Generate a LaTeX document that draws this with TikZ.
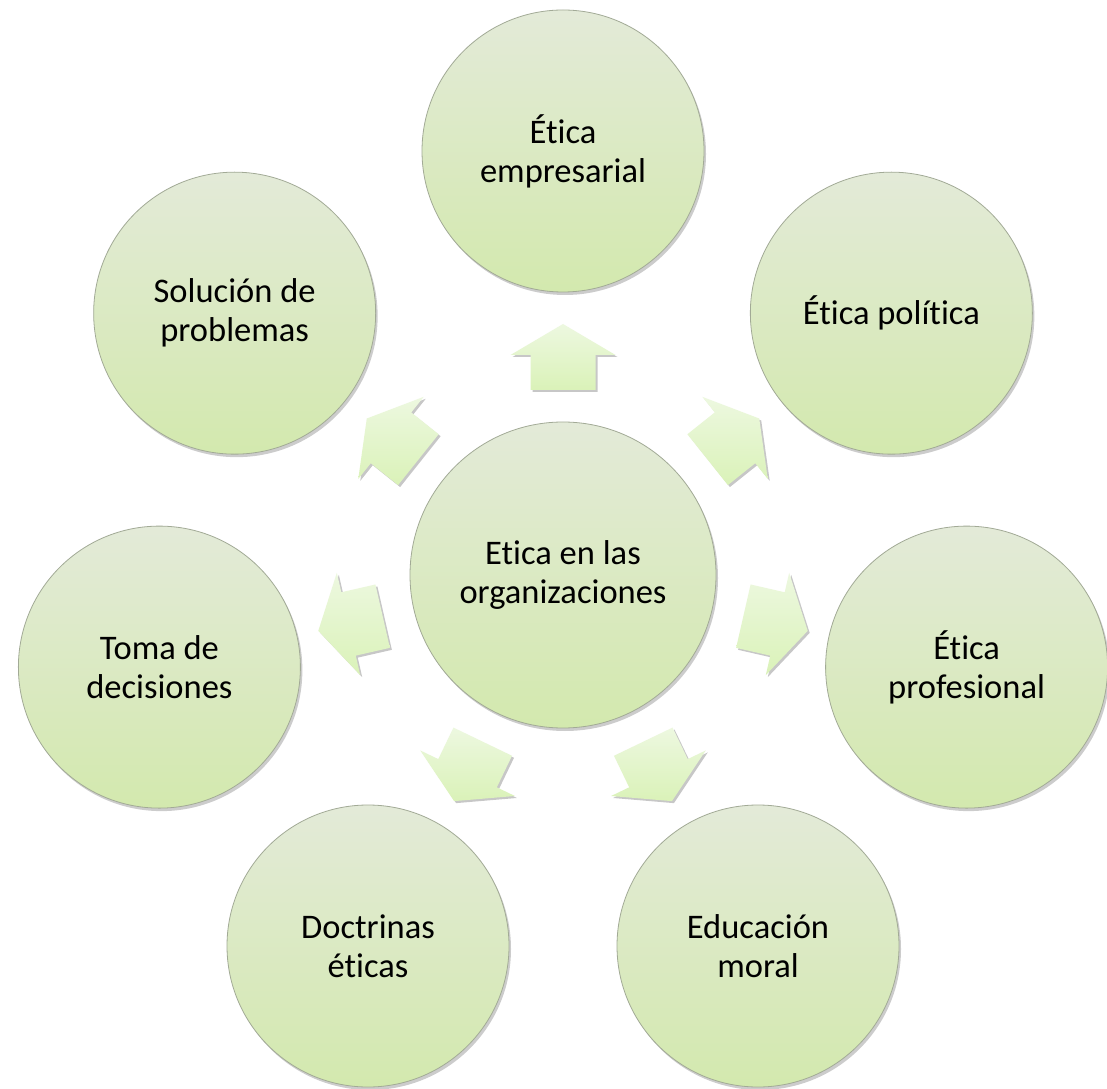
\documentclass[tikz,border=0pt]{standalone}
\usepackage{fontspec}
\setmainfont{Carlito}[Ligatures={NoCommon}]
\usetikzlibrary{shadows,calc}
\definecolor{circTop}{HTML}{E3EAD8}
\definecolor{circBot}{HTML}{D3E9AE}
\definecolor{arrTop}{HTML}{EDF8E0}
\definecolor{arrBot}{HTML}{DAF2B8}
\definecolor{rim}{HTML}{A2AA96}
\tikzset{
  bubble/.style={circle, minimum size=282pt, inner sep=0pt, draw=rim, line width=0.8pt,
    top color=circTop, bottom color=circBot,
    drop shadow={shadow xshift=2pt, shadow yshift=-3pt, opacity=0.2, fill=black},
    align=center, font=\fontsize{34.5}{39}\selectfont, text=black},
  hub/.style={bubble, minimum size=306pt},
  blockarrow/.style={top color=arrTop, bottom color=arrBot, draw=none,
    drop shadow={shadow xshift=2pt, shadow yshift=-2pt, opacity=0.22, fill=black}}
}
\begin{document}
\begin{tikzpicture}[x=1pt,y=1pt]
\useasboundingbox (0,0) rectangle (1107,1088);
\fill[white] (0,0) rectangle (1107,1088);
\coordinate (c) at (563,513);
\node[hub] (hub) at (c) {Etica en las\\organizaciones};
\node[bubble] (emp) at ($(c)+(90:424)$) {Ética\\empresarial};
\node[bubble] (pol) at ($(c)+(38.571:420)$) {Ética política};
\node[bubble] (pro) at ($(c)+(-12.857:414)$) {Ética\\profesional};
\node[bubble] (mor) at ($(c)+(195,-371)$) {Educación\\moral};
\node[bubble] (doc) at ($(c)+(-195,-371)$) {Doctrinas\\éticas};
\node[bubble] (tom) at ($(c)+(-167.143:414)$) {Toma de\\decisiones};
\node[bubble] (sol) at ($(c)+(141.429:420)$) {Solución de\\problemas};
\foreach \a in {90, 38.571, -12.857, -64.286, -115.714, -167.143, 141.429} {
  \begin{scope}[shift={($(c)+(\a:218)$)}, rotate=\a]
    \path[blockarrow] (-33,-32.5) -- (2,-32.5) -- (2,-52.5) -- (33,0)
      -- (2,52.5) -- (2,32.5) -- (-33,32.5) -- cycle;
  \end{scope}
}
\end{tikzpicture}
\end{document}
